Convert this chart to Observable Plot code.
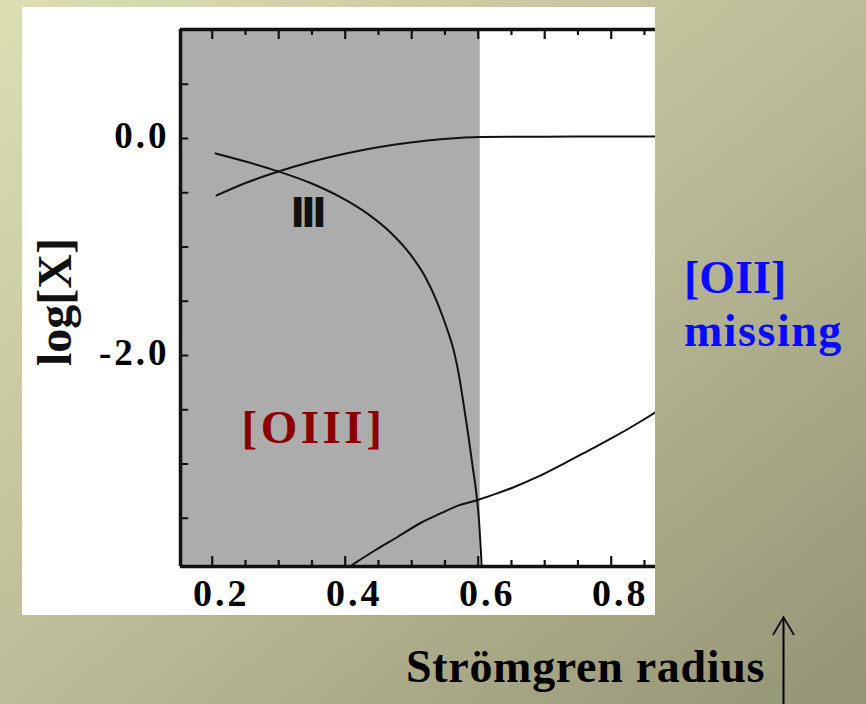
<!DOCTYPE html>
<html>
<head>
<meta charset="utf-8">
<script src="https://cdn.jsdelivr.net/npm/d3@7"></script>
<script src="https://cdn.jsdelivr.net/npm/@observablehq/plot@0.6"></script>
<style>
  html, body { margin: 0; padding: 0; }
  body { width: 866px; height: 704px; overflow: hidden; position: relative;
         background: linear-gradient(to bottom right, #dcdeb2 0%, #bcbc98 50%, #949476 100%);
         font-family: "Liberation Serif", serif; }
  #chart { position: absolute; left: 22px; top: 7px; width: 633px; height: 608px; background: #fff; }
  #chart svg { display: block; }
  #overlay { position: absolute; left: 0; top: 0; pointer-events: none; }
</style>
</head>
<body>
<div id="chart"></div>
<svg id="overlay" width="866" height="704">
  <text x="684" y="293" font-family="Liberation Serif" font-weight="bold" font-size="46" fill="#0a0aff">[OII]</text>
  <text x="684" y="346" font-family="Liberation Serif" font-weight="bold" font-size="46" letter-spacing="1.5" fill="#0a0aff">missing</text>
  <text x="406" y="682" font-family="Liberation Serif" font-weight="bold" font-size="46" letter-spacing="0.7" fill="#000">Strömgren radius</text>
  <line x1="783.5" y1="704" x2="783.5" y2="618" stroke="#000" stroke-width="2"/>
  <polyline points="773,635 783.5,617 794,635" fill="none" stroke="#000" stroke-width="1.6"/>
</svg>
<script>
// ---- data ----
const xDomain = [0.1523, 0.8666];
const yDomain = [-3.945, 1.005];
const xTickLabels = [0.2, 0.4, 0.6, 0.8];
const yTickLabels = [0, -2];
const xBottomMajor = [0.2, 0.4, 0.6, 0.8];
const xBottomMinor = [0.25, 0.3, 0.35, 0.45, 0.5, 0.55, 0.65, 0.7, 0.75, 0.85];
const xTopMajor = [0.2, 0.3, 0.4, 0.5, 0.6, 0.7, 0.8];
const xTopMinor = [0.25, 0.35, 0.45, 0.55, 0.65, 0.75, 0.85];
const yLeftTicks = [0.5, 0, -0.5, -1, -1.5, -2, -2.5, -3, -3.5];
const shadeEnd = 0.603;

// falling curve ([OIII])
const oiiiX = [0.2050, 0.2501, 0.2997, 0.3478, 0.3929, 0.4339, 0.4685, 0.4971, 0.5196, 0.5377, 0.5527, 0.5632, 0.5711, 0.5779, 0.5847, 0.5914, 0.5974, 0.6012, 0.6035, 0.6050, 0.6057];
const oiiiY = [-0.138, -0.212, -0.304, -0.410, -0.540, -0.694, -0.868, -1.061, -1.268, -1.501, -1.747, -1.954, -2.184, -2.442, -2.719, -3.014, -3.281, -3.521, -3.751, -3.936, -4.074];
// rising upper curve
const upX = [0.2065, 0.2501, 0.2997, 0.3478, 0.3974, 0.447, 0.4982, 0.5479, 0.6035, 0.70, 0.80, 0.87];
const upY = [-0.525, -0.410, -0.304, -0.217, -0.143, -0.083, -0.037, -0.005, 0.014, 0.017, 0.018, 0.018];
// rising lower curve
const lowX = [0.405, 0.4105, 0.4456, 0.4787, 0.5133, 0.5434, 0.5705, 0.5991, 0.6262, 0.6533, 0.6907, 0.7283, 0.7659, 0.8035, 0.8366, 0.8666, 0.875];
const lowY = [-3.953, -3.931, -3.793, -3.673, -3.544, -3.456, -3.382, -3.332, -3.276, -3.214, -3.115, -2.998, -2.876, -2.753, -2.636, -2.523, -2.49];

const toPts = (xs, ys) => xs.map((x, i) => ({x, y: ys[i]}));
const up = {draw(ctx, l) { ctx.moveTo(0, 0); ctx.lineTo(0, -l); }};
const ink = "#111";
const fontOpts = {fontFamily: "Liberation Serif", fontWeight: "bold"};

const W = 633, H = 608, mL = 158, mT = 22, mR = 0, mB = 49;
const innerH = H - mT - mB;
const pxPerY = innerH / (yDomain[1] - yDomain[0]);
const tickUp = (len) => yDomain[0] + len / pxPerY;
const tickDown = (len) => yDomain[1] - len / pxPerY;

const svg = Plot.plot({
  width: W,
  height: H,
  marginLeft: mL,
  marginTop: mT,
  marginRight: mR,
  marginBottom: mB,
  x: {domain: xDomain},
  y: {domain: yDomain},
  style: {background: "white", fontFamily: "Liberation Serif", overflow: "visible"},
  marks: [
    Plot.rect([{x1: xDomain[0], x2: shadeEnd}], {x1: "x1", x2: "x2", fill: "#acacac"}),
    Plot.line(toPts(upX, upY), {x: "x", y: "y", stroke: ink, strokeWidth: 2, curve: "monotone-x", clip: true}),
    Plot.line(toPts(oiiiX, oiiiY), {x: "x", y: "y", stroke: ink, strokeWidth: 2, curve: "monotone-x", clip: true}),
    Plot.line(toPts(lowX, lowY), {x: "x", y: "y", stroke: ink, strokeWidth: 2, curve: "monotone-x", clip: true}),
    // ticks (pointing inward)
    Plot.ruleX(xBottomMajor, {x: d => d, y1: yDomain[0], y2: tickUp(10), stroke: ink, strokeWidth: 2.2}),
    Plot.ruleX(xBottomMinor, {x: d => d, y1: yDomain[0], y2: tickUp(6), stroke: ink, strokeWidth: 2.2}),
    Plot.ruleX(xTopMajor, {x: d => d, y1: yDomain[1], y2: tickDown(10), stroke: ink, strokeWidth: 2.2}),
    Plot.ruleX(xTopMinor, {x: d => d, y1: yDomain[1], y2: tickDown(6), stroke: ink, strokeWidth: 2.2}),
    Plot.vector(yLeftTicks, {y: d => d, frameAnchor: "left", length: 7, rotate: 90, anchor: "start", shape: up, stroke: ink, strokeWidth: 2}),
    // frame (left, top, bottom)
    Plot.ruleX([xDomain[0]], {stroke: ink, strokeWidth: 3.5}),
    Plot.ruleY([yDomain[0], yDomain[1]], {stroke: ink, strokeWidth: 3.5}),
    // tick labels
    Plot.axisX({ticks: xTickLabels, tickSize: 0, tickPadding: 13, tickFormat: d => d.toFixed(1), fontSize: 38, dx: 9, label: null, ...fontOpts}),
    Plot.axisY({ticks: yTickLabels, tickSize: 0, tickPadding: 11, tickFormat: d => d.toFixed(1), fontSize: 37, dy: -2, label: null, ...fontOpts}),
    // axis title
    Plot.text(["log[X]"], {frameAnchor: "left", text: d => d, textAnchor: "middle", rotate: -90, dx: -125, dy: 4, fontSize: 48, fill: ink, ...fontOpts}),
    // annotations
    Plot.text(["III"], {x: 0.3418, y: -0.702, text: d => d, fontSize: 40, fontFamily: "DejaVu Sans", fontWeight: "bold", fill: ink}),
    Plot.text(["[OIII]"], {x: 0.2441, y: -2.811, text: d => d, textAnchor: "start", lineAnchor: "bottom", fontSize: 47, fill: "#8b0000", ...fontOpts})
  ]
});

d3.select(svg).selectAll("text").each(function() {
  const t = this.textContent;
  if (t === "III") this.setAttribute("letter-spacing", "-4");
  else if (t === "[OIII]") this.setAttribute("letter-spacing", "3.5");
  else if (/^-?\d\.\d$/.test(t)) this.setAttribute("letter-spacing", "3");
});

document.getElementById("chart").appendChild(svg);
</script>
</body>
</html>
